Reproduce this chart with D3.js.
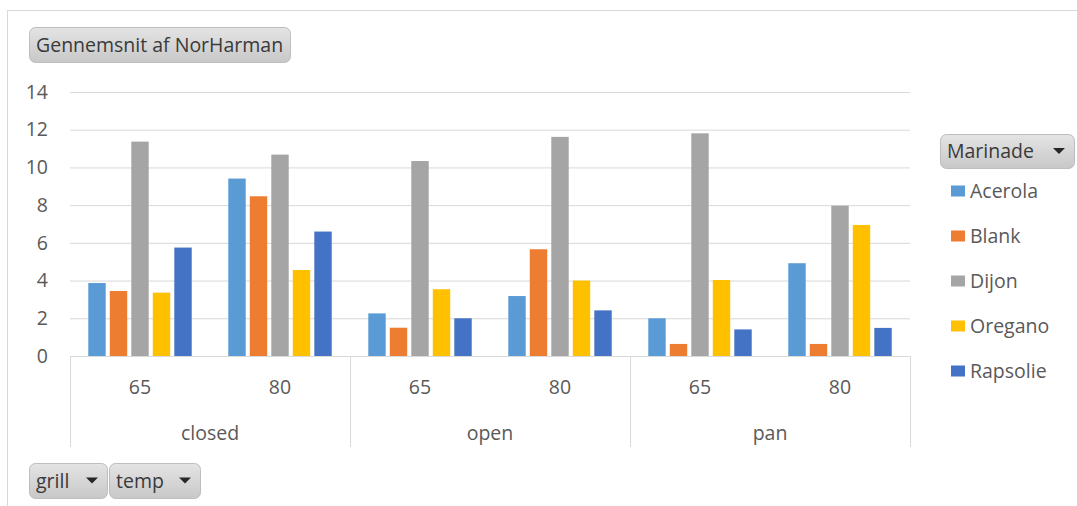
<!DOCTYPE html>
<html>
<head>
<meta charset="utf-8">
<script src="https://cdn.jsdelivr.net/npm/d3@7/dist/d3.min.js"></script>
<style>
  html, body { margin: 0; padding: 0; background: #fff; }
  svg { display: block; }
  text { font-family: "Open Sans", "Noto Sans", sans-serif; }
</style>
</head>
<body>
<svg id="chart" width="1077" height="506"></svg>
<script>
// Average NorHarman per grill type, temperature and marinade
const grills = ["closed", "open", "pan"];
const temps = ["65", "80"];
const marinades = ["Acerola", "Blank", "Dijon", "Oregano", "Rapsolie"];
const colors = ["#5B9BD5", "#ED7D31", "#A5A5A5", "#FFC000", "#4472C4"];
const yTicks = [0, 2, 4, 6, 8, 10, 12, 14];

// one row per grill/temp combination, values in marinade order
const closed65 = [3.87, 3.45, 11.37, 3.36, 5.75];
const closed80 = [9.41, 8.47, 10.68, 4.56, 6.60];
const open65   = [2.26, 1.50, 10.34, 3.54, 2.00];
const open80   = [3.18, 5.66, 11.62, 4.00, 2.42];
const pan65    = [2.00, 0.64, 11.81, 4.03, 1.41];
const pan80    = [4.92, 0.64, 7.97, 6.95, 1.49];

const rows = [
  { grill: "closed", temp: "65", values: closed65 },
  { grill: "closed", temp: "80", values: closed80 },
  { grill: "open",   temp: "65", values: open65 },
  { grill: "open",   temp: "80", values: open80 },
  { grill: "pan",    temp: "65", values: pan65 },
  { grill: "pan",    temp: "80", values: pan80 }
];

const svg = d3.select("#chart");
const textColor = "#595959";
const labelSize = "19.5px";

// outer frame
svg.append("rect")
  .attr("x", 7.5).attr("y", 10.5)
  .attr("width", 1080).attr("height", 520)
  .attr("fill", "none").attr("stroke", "#d9d9d9");

const plot = { left: 70, right: 910, top: 92, bottom: 356 };

const y = d3.scaleLinear().domain([0, 14]).range([plot.bottom, plot.top]);
const xGrill = d3.scaleBand().domain(grills).range([plot.left, plot.right]).padding(0);
const xTemp = d3.scaleBand().domain(temps).range([0, xGrill.bandwidth()]).padding(0);
const xMar = d3.scaleBand().domain(marinades).range([0, xTemp.bandwidth()])
  .paddingInner(0.19).paddingOuter(0.85);
const color = d3.scaleOrdinal().domain(marinades).range(colors);

// gridlines and value labels
const yAxis = svg.append("g")
  .attr("transform", `translate(${plot.left},0)`)
  .call(d3.axisLeft(y).tickValues(yTicks).tickSize(-(plot.right - plot.left)).tickPadding(22));
yAxis.select(".domain").remove();
yAxis.selectAll(".tick line").attr("stroke", "#d9d9d9").attr("stroke-width", 1);
yAxis.selectAll(".tick text")
  .attr("fill", textColor)
  .style("font-size", labelSize);

// bars
const groups = svg.append("g").selectAll("g")
  .data(rows)
  .join("g")
  .attr("transform", d => `translate(${xGrill(d.grill) + xTemp(d.temp)},0)`);

groups.selectAll("rect")
  .data(d => d.values.map((v, i) => ({ key: marinades[i], value: v })))
  .join("rect")
  .attr("x", d => xMar(d.key))
  .attr("width", xMar.bandwidth())
  .attr("y", d => y(d.value))
  .attr("height", d => y(0) - y(d.value))
  .attr("fill", d => color(d.key));

// multi-level category axis
const axisBottom = 447;
const catAxis = svg.append("g");
catAxis.append("line")
  .attr("x1", plot.left).attr("x2", plot.right)
  .attr("y1", plot.bottom + 0.5).attr("y2", plot.bottom + 0.5)
  .attr("stroke", "#d9d9d9");
const seps = grills.map(g => xGrill(g)).concat([plot.right]);
catAxis.selectAll("line.sep")
  .data(seps)
  .join("line")
  .attr("class", "sep")
  .attr("x1", d => Math.round(d) + 0.5).attr("x2", d => Math.round(d) + 0.5)
  .attr("y1", plot.bottom).attr("y2", axisBottom)
  .attr("stroke", "#d9d9d9");

catAxis.selectAll("text.temp")
  .data(rows)
  .join("text")
  .attr("class", "temp")
  .attr("x", d => xGrill(d.grill) + xTemp(d.temp) + xTemp.bandwidth() / 2)
  .attr("y", 394)
  .attr("text-anchor", "middle")
  .attr("fill", textColor)
  .style("font-size", labelSize)
  .text(d => d.temp);

catAxis.selectAll("text.grill")
  .data(grills)
  .join("text")
  .attr("class", "grill")
  .attr("x", d => xGrill(d) + xGrill.bandwidth() / 2)
  .attr("y", 440)
  .attr("text-anchor", "middle")
  .attr("fill", textColor)
  .style("font-size", labelSize)
  .text(d => d);

// field buttons
const defs = svg.append("defs");
const grad = defs.append("linearGradient").attr("id", "btnGrad")
  .attr("x1", 0).attr("y1", 0).attr("x2", 0).attr("y2", 1);
grad.append("stop").attr("offset", "0%").attr("stop-color", "#e4e4e4");
grad.append("stop").attr("offset", "100%").attr("stop-color", "#c8c8c8");

function button(x, y0, w, h, label, arrow) {
  const g = svg.append("g").attr("transform", `translate(${x},${y0})`);
  g.append("rect")
    .attr("x", 0.5).attr("y", 0.5).attr("width", w).attr("height", h)
    .attr("rx", 6).attr("ry", 6)
    .attr("fill", "url(#btnGrad)").attr("stroke", "#bdbdbd");
  g.append("text")
    .attr("x", 7).attr("y", h / 2 + 7)
    .attr("fill", "#3a3a3a")
    .style("font-size", "19.5px")
    .text(label);
  if (arrow) {
    const ax = w - 15, ay = h / 2 - 3;
    g.append("path")
      .attr("d", `M${ax - 6},${ay} L${ax + 6},${ay} L${ax},${ay + 6} Z`)
      .attr("fill", "#262626");
  }
  return g;
}

button(29, 27, 261, 35, "Gennemsnit af NorHarman", false);
button(940, 134, 134, 34, "Marinade", true);
button(29, 463, 78, 35, "grill", true);
button(109, 463, 91, 35, "temp", true);

// legend
const legend = svg.append("g").selectAll("g")
  .data(marinades)
  .join("g")
  .attr("transform", (d, i) => `translate(951,${191 + i * 45})`);
legend.append("rect")
  .attr("x", 0).attr("y", -5.5).attr("width", 14).attr("height", 11)
  .attr("fill", d => color(d));
legend.append("text")
  .attr("x", 19).attr("y", 7)
  .attr("fill", textColor)
  .style("font-size", "19.5px")
  .text(d => d);
</script>
</body>
</html>
